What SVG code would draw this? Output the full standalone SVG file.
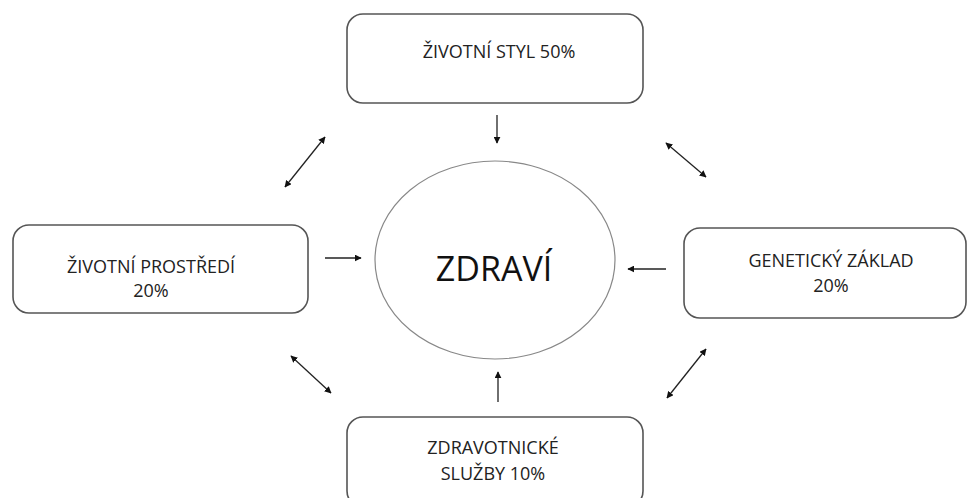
<svg xmlns="http://www.w3.org/2000/svg" width="968" height="498" viewBox="0 0 968 498">
<style>
.box{fill:#fff;stroke:#555;stroke-width:1.6}
.ell{fill:#fff;stroke:#888;stroke-width:1.2}
.t{font-family:"Open Sans","Liberation Sans",sans-serif;font-size:18px;fill:#222;text-anchor:middle}
.big{font-family:"Open Sans","Liberation Sans",sans-serif;font-size:34px;fill:#111;text-anchor:middle}
.c{stroke:#222;stroke-width:1.3;fill:none}
.one{marker-end:url(#ah)}
.two{marker-start:url(#ahs);marker-end:url(#ah)}
</style>
<defs>
<marker id="ah" viewBox="0 0 10 10" refX="9" refY="5" markerWidth="7" markerHeight="7" markerUnits="userSpaceOnUse" orient="auto"><path d="M0,0 L10,5 L0,10 z" fill="#111"/></marker>
<marker id="ahs" viewBox="0 0 10 10" refX="1" refY="5" markerWidth="7" markerHeight="7" markerUnits="userSpaceOnUse" orient="auto"><path d="M10,0 L0,5 L10,10 z" fill="#111"/></marker>
</defs>
<rect width="968" height="498" fill="#fff"/>
<g id="zivotni-styl">
<rect class="box" x="347" y="14" width="296" height="89" rx="16"/>
<text class="t" x="499" y="58">ŽIVOTNÍ STYL 50%</text>
</g>
<g id="zivotni-prostredi">
<rect class="box" x="13" y="225" width="295" height="88" rx="16"/>
<text class="t" x="151" y="273">ŽIVOTNÍ PROSTŘEDÍ</text>
<text class="t" x="151" y="297">20%</text>
</g>
<g id="geneticky-zaklad">
<rect class="box" x="684" y="228" width="282" height="90" rx="16"/>
<text class="t" x="831" y="267">GENETICKÝ ZÁKLAD</text>
<text class="t" x="831" y="292">20%</text>
</g>
<g id="zdravotnicke-sluzby">
<rect class="box" x="347" y="417" width="296" height="90" rx="16"/>
<text class="t" x="493" y="454">ZDRAVOTNICKÉ</text>
<text class="t" x="493" y="480">SLUŽBY 10%</text>
</g>
<g id="zdravi">
<ellipse class="ell" cx="495" cy="260" rx="120" ry="99"/>
<text class="big" x="494" y="281">ZDRAVÍ</text>
</g>
<g id="connectors">
<line class="c one" x1="497" y1="115" x2="497" y2="143"/>
<line class="c one" x1="498" y1="402" x2="498" y2="372"/>
<line class="c one" x1="325" y1="258" x2="361" y2="258"/>
<line class="c one" x1="666" y1="269" x2="628" y2="269"/>
<line class="c two" x1="285" y1="187" x2="325" y2="137"/>
<line class="c two" x1="666" y1="143" x2="706" y2="177"/>
<line class="c two" x1="291" y1="356" x2="331" y2="393"/>
<line class="c two" x1="667" y1="398" x2="706" y2="349"/>
</g>
</svg>
